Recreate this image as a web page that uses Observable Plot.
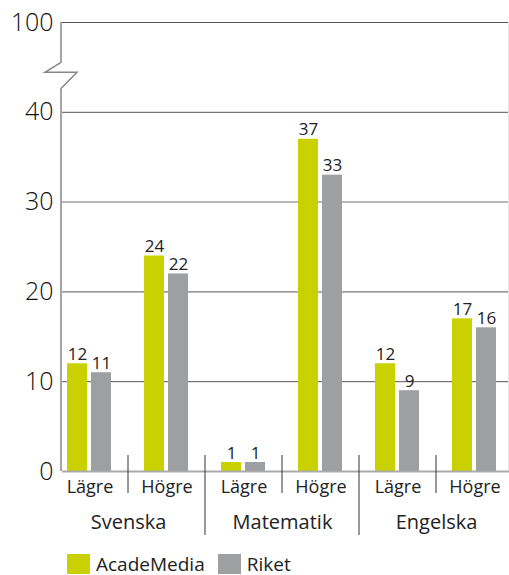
<!DOCTYPE html>
<html>
<head>
<meta charset="utf-8">
<script src="https://cdn.jsdelivr.net/npm/d3@7"></script>
<script src="https://cdn.jsdelivr.net/npm/@observablehq/plot@0.6"></script>
<style>
  html, body { margin: 0; padding: 0; background: white; }
  #legend { display: flex; align-items: center; margin-left: 67px; margin-top: 5px;
    font-family: 'Open Sans', sans-serif; font-weight: 400; font-size: 19px; color: #222; height: 21px; }
  #legend .sw { width: 23px; height: 20px; margin-right: 6px; }
  #legend .item { display: flex; align-items: center; margin-right: 13px; }
</style>
</head>
<body>
<div id="chart"></div>
<div id="legend"></div>
<script>
const subjects = ["Svenska", "Matematik", "Engelska"];
const levels = ["Lägre", "Högre"];
const series = ["AcadeMedia", "Riket"];
const acadeMedia = [12, 24, 1, 37, 12, 17];
const riket = [11, 22, 1, 33, 9, 16];
const colors = ["#c9d200", "#9e9fa1"];
const yTicks = [0, 10, 20, 30, 40, 50];
const yTickLabels = ["0", "10", "20", "30", "40", "100"];
const darkGrid = [10, 20, 40, 50];
const lightGrid = [30];

const data = [];
const keys = [];
const levelRows = [];
const groupRows = [];
subjects.forEach((s, i) => levels.forEach((l, j) => {
  const k = i * 2 + j;
  const key = s + " " + l;
  keys.push(key);
  levelRows.push({key, level: l});
  if (j === 0) groupRows.push({key, subject: s});
  data.push({key, subject: s, level: l, series: series[0], value: acadeMedia[k]});
  data.push({key, subject: s, level: l, series: series[1], value: riket[k]});
}));

const axisX = 61;        // position of the y axis line
const fxRange = [50, 514];
const lead = axisX - fxRange[0];
const gridRows = keys.flatMap(key => yTicks.map(v => ({key, v})));
const isFirst = d => d.key === keys[0];
const notFirst = d => d.key !== keys[0];
const gridStyle = v => darkGrid.includes(v) ? "#555" : lightGrid.includes(v) ? "#a0a0a0" : "#aaa";
const gridWidth = v => darkGrid.includes(v) ? 1 : lightGrid.includes(v) ? 1.5 : 2;

function gridMarks(filter, insetLeft) {
  const rows = gridRows.filter(filter);
  return ["dark", "light", "zero"].map(kind => {
    const vals = kind === "dark" ? darkGrid : kind === "light" ? lightGrid : [0];
    return Plot.ruleY(rows.filter(d => vals.includes(d.v)), {
      fx: "key", y: "v", insetLeft,
      stroke: gridStyle(vals[0]), strokeWidth: gridWidth(vals[0])
    });
  });
}

const plot = Plot.plot({
  width: 509, height: 548,
  marginLeft: 61, marginRight: 0, marginTop: 22, marginBottom: 77,
  style: {fontFamily: "'Open Sans', sans-serif", fontSize: "17px", fontWeight: 400, color: "#222", background: "white"},
  fx: {domain: keys, padding: 0, axis: null, range: fxRange},
  x: {domain: series, paddingInner: 0.16, paddingOuter: 0.628, axis: null},
  y: {domain: [0, 50], axis: null},
  color: {domain: series, range: colors},
  marks: [
    ...gridMarks(isFirst, lead).slice(0, 2),
    ...gridMarks(notFirst, 0).slice(0, 2),
    Plot.barY(data, {fx: "key", x: "series", y: "value", fill: "series"}),
    gridMarks(isFirst, lead)[2],
    gridMarks(notFirst, 0)[2],
    Plot.text(data, {fx: "key", x: "series", y: "value", text: d => String(d.value),
      lineAnchor: "bottom", dy: -4, fontSize: 17, fill: "#222"}),
    Plot.axisY({ticks: yTicks, tickFormat: d => yTickLabels[yTicks.indexOf(d)],
      tickSize: 0, tickPadding: -2, fontSize: 25, fontWeight: 300, label: null, fill: "#111"}),
    Plot.text(levelRows, {fx: "key", frameAnchor: "bottom", text: "level",
      lineAnchor: "middle", dy: 16, fontSize: 18, fill: "#222"}),
    Plot.text(groupRows, {fx: "key", frameAnchor: "bottom-right", text: "subject",
      textAnchor: "middle", lineAnchor: "middle", dy: 51, fontSize: 20, fill: "#222"})
  ]
});
document.getElementById("chart").append(plot);

// decorations: axis line with break, separators
const svg = d3.select(plot);
const fx = plot.scale("fx");
const y = plot.scale("y");
const ax = axisX;
const y0 = y.apply(0);
const g = svg.append("g").attr("fill", "none");
g.append("path")
  .attr("d", `M${ax},${y.apply(50)}V${y.apply(45.5)}L${ax - 16},${y.apply(44.4)}H${ax + 16}L${ax},${y.apply(42.6)}V${y0}`)
  .attr("stroke", "#888").attr("stroke-width", 1.5);
const bw = fx.bandwidth;
keys.slice(0, -1).forEach((k, i) => {
  const xb = fx.apply(k) + bw;
  const long = i % 2 === 1;
  g.append("line")
    .attr("x1", xb).attr("x2", xb)
    .attr("y1", y0 - 16).attr("y2", y0 + (long ? 64 : 22))
    .attr("stroke", "#333").attr("stroke-width", 1);
});
g.append("line").attr("x1", 508.5).attr("x2", 508.5)
  .attr("y1", y.apply(50)).attr("y2", y0).attr("stroke", "#e4e4e4");

// legend
const legend = d3.select("#legend");
series.forEach((s, i) => {
  const item = legend.append("div").attr("class", "item");
  item.append("div").attr("class", "sw").style("background", colors[i]);
  item.append("span").text(s);
});
</script>
</body>
</html>
